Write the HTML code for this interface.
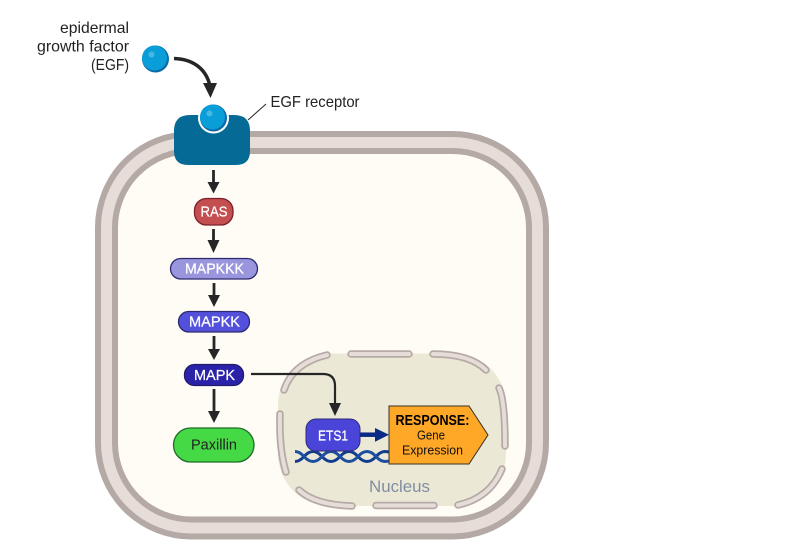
<!DOCTYPE html>
<html>
<head>
<meta charset="utf-8">
<style>
html,body{margin:0;padding:0;background:#fff}
svg{display:block}
text{font-family:"Liberation Sans",sans-serif}
</style>
</head>
<body>
<svg width="800" height="560" viewBox="0 0 800 560" xmlns="http://www.w3.org/2000/svg">
<rect width="800" height="560" fill="#fff"/>

<!-- membrane -->
<rect x="106.500" y="142.500" width="431" height="385.500" rx="85" fill="#fffcf5" stroke="#b4a9a4" stroke-width="23"/>
<rect x="106.500" y="142.500" width="431" height="385.500" rx="85" fill="none" stroke="#e6dcd8" stroke-width="11"/>

<!-- nucleus -->
<rect x="278" y="353.500" width="228" height="152.500" rx="52" fill="#ece8d6"/>
<g fill="none" stroke-linecap="round">
<g stroke="#b5aaa5" stroke-width="7.500">
<path d="M284 390Q293 363 327 355"/>
<path d="M351 354H409"/>
<path d="M433 354Q470 354 486 370"/>
<path d="M499 388Q505 400 505 446"/>
<path d="M502 469Q490 498 458 505"/>
<path d="M376 505.500H434"/>
<path d="M352 506Q315 505 299 490"/>
<path d="M286 472Q279 450 280 414"/>
</g>
<g stroke="#e6dcd8" stroke-width="4">
<path d="M284 390Q293 363 327 355"/>
<path d="M351 354H409"/>
<path d="M433 354Q470 354 486 370"/>
<path d="M499 388Q505 400 505 446"/>
<path d="M502 469Q490 498 458 505"/>
<path d="M376 505.500H434"/>
<path d="M352 506Q315 505 299 490"/>
<path d="M286 472Q279 450 280 414"/>
</g>
</g>
<text x="399.500" y="492" font-size="17" fill="#7f8ea3" text-anchor="middle" textLength="61" lengthAdjust="spacingAndGlyphs">Nucleus</text>

<!-- DNA -->
<g fill="none" stroke-width="3">
<path stroke="#123c8e" d="M295 461.500Q299.500 461.500 304 456.500T313 451.500T322 456.500T331 461.500T340 456.500T349 451.500T358 456.500T367 461.500T376 456.500T385 451.500L390 452"/>
<path stroke="#1d4fa0" d="M295 451.500Q299.500 451.500 304 456.500T313 461.500T322 456.500T331 451.500T340 456.500T349 461.500T358 456.500T367 451.500T376 456.500T385 461.500L390 461"/>
</g>

<!-- receptor -->
<path d="M190 115H234Q250 115 250 131V151Q250 165 236 165H188Q174 165 174 151V131Q174 115 190 115Z" fill="#056a96"/>
<circle cx="213.500" cy="118" r="15.500" fill="#fff"/>
<rect x="198" y="100" width="31" height="15" fill="#fff"/>

<!-- EGF bound -->
<circle cx="213.500" cy="118" r="13.500" fill="#0b6aa8"/>
<circle cx="212.500" cy="117" r="12.500" fill="#0a9ed8"/>
<circle cx="209.500" cy="113.500" r="3" fill="#45b9e2"/>
<!-- EGF free -->
<circle cx="155.500" cy="59" r="13.500" fill="#0b6aa8"/>
<circle cx="154.500" cy="58" r="12.500" fill="#0a9ed8"/>
<circle cx="151.500" cy="54.500" r="3" fill="#45b9e2"/>

<!-- arrows -->
<g stroke="#262626" fill="none" stroke-width="2.800">
<path d="M174 58.500C192 59 206 68 210 86" stroke-width="3.500"/>
<path d="M213.500 170V184"/>
<path d="M213.500 229V242"/>
<path d="M214 283V297"/>
<path d="M214 336V352"/>
<path d="M214 389V413"/>
<path d="M251 374H323Q335 374 335 386V405" stroke-width="2.200"/>
<path d="M248 120L266 104" stroke-width="1"/>
</g>
<g fill="#262626">
<path d="M203 83H217L210.500 98Z"/>
<path d="M207.500 182H219.500L213.500 193.500Z"/>
<path d="M207.500 240H219.500L213.500 253Z"/>
<path d="M208 295H220L214 307Z"/>
<path d="M208 349H220L214 360Z"/>
<path d="M208 411H220L214 423Z"/>
<path d="M329 403H341L335 416Z"/>
</g>

<!-- nodes -->
<rect x="194.500" y="198.500" width="38.500" height="26.500" rx="12" fill="#c44f50" stroke="#7c1f2b" stroke-width="1.300"/>
<rect x="170.500" y="258.500" width="87" height="20.500" rx="10.200" fill="#9a96de" stroke="#2d2a6f" stroke-width="1.300"/>
<rect x="178.500" y="311.500" width="71" height="20.500" rx="10.200" fill="#5350dc" stroke="#2d2a6f" stroke-width="1.300"/>
<rect x="184.500" y="364.500" width="59" height="21" rx="10" fill="#2a22a8" stroke="#1f1c6e" stroke-width="1.300"/>
<rect x="173.500" y="428" width="80.500" height="34" rx="17" fill="#46d946" stroke="#1f6b2a" stroke-width="1.300"/>
<rect x="306" y="419" width="54" height="32" rx="10" fill="#4a45d8" stroke="#2e2c78" stroke-width="1"/>

<path d="M360 434.700H376" stroke="#0a2a85" stroke-width="4.500" fill="none"/>
<path d="M375 428L389 434.700L375 441.700Z" fill="#0a2a85"/>
<path d="M389 406H469L488 435L469 464H389Z" fill="#ffa726" stroke="#33302a" stroke-width="1"/>

<!-- labels -->
<g fill="#222" font-size="16">
<text x="129" y="33" text-anchor="end" textLength="69" lengthAdjust="spacingAndGlyphs">epidermal</text>
<text x="129" y="51.500" text-anchor="end" textLength="92" lengthAdjust="spacingAndGlyphs">growth factor</text>
<text x="129" y="70" text-anchor="end" textLength="38" lengthAdjust="spacingAndGlyphs">(EGF)</text>
<text x="270.500" y="107" textLength="89" lengthAdjust="spacingAndGlyphs">EGF receptor</text>
</g>
<g fill="#fff" stroke="#fff" stroke-width="0.250" font-size="15" text-anchor="middle">
<text x="214" y="216.500" textLength="27" lengthAdjust="spacingAndGlyphs">RAS</text>
<text x="214.500" y="273.500" textLength="59" lengthAdjust="spacingAndGlyphs">MAPKKK</text>
<text x="214.500" y="326.500" textLength="51" lengthAdjust="spacingAndGlyphs">MAPKK</text>
<text x="214.500" y="380" textLength="41" lengthAdjust="spacingAndGlyphs">MAPK</text>
<text x="333" y="440.500" textLength="30" lengthAdjust="spacingAndGlyphs">ETS1</text>
</g>
<text x="214" y="449.500" font-size="15" fill="#222" text-anchor="middle" textLength="46" lengthAdjust="spacingAndGlyphs">Paxillin</text>
<text x="432.500" y="425" font-size="14.500" font-weight="bold" fill="#000" text-anchor="middle" textLength="74" lengthAdjust="spacingAndGlyphs">RESPONSE:</text>
<text x="431" y="439.500" font-size="13" fill="#111" text-anchor="middle" textLength="28" lengthAdjust="spacingAndGlyphs">Gene</text>
<text x="432.500" y="454.500" font-size="13" fill="#111" text-anchor="middle" textLength="61" lengthAdjust="spacingAndGlyphs">Expression</text>
</svg>
</body>
</html>
